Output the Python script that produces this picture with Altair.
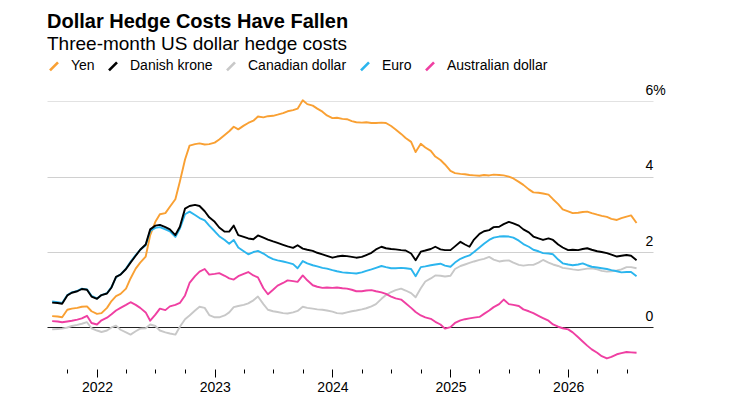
import altair as alt
import pandas as pd

# semi-monthly observation dates (1st and 15th of each month)
dates = pd.date_range("2021-08-15", periods=120, freq="SMS").strftime("%Y-%m-%dT00:00:00").tolist()

yen = [
    0.30, 0.29, 0.27, 0.47, 0.50, 0.52, 0.55, 0.56, 0.43, 0.36,
    0.38, 0.52, 0.70, 0.83, 0.89, 1.03, 1.30, 1.56, 1.72, 1.88,
    2.45, 2.80, 3.00, 3.03, 3.20, 3.40, 3.87, 4.45, 4.82, 4.86,
    4.88, 4.85, 4.86, 4.90, 4.98, 5.10, 5.20, 5.32, 5.25, 5.35,
    5.42, 5.48, 5.59, 5.57, 5.60, 5.61, 5.64, 5.68, 5.73, 5.76,
    5.80, 6.02, 5.92, 5.88, 5.80, 5.72, 5.62, 5.55, 5.56, 5.53,
    5.52, 5.47, 5.44, 5.43, 5.44, 5.42, 5.42, 5.43, 5.42, 5.34,
    5.25, 5.13, 5.02, 4.92, 4.65, 4.87, 4.77, 4.68, 4.53, 4.44,
    4.32, 4.15, 4.09, 4.07, 4.06, 4.04, 4.03, 4.02, 4.04, 4.03,
    4.05, 4.04, 4.03, 4.00, 3.95, 3.86, 3.78, 3.66, 3.58, 3.57,
    3.55, 3.52, 3.40, 3.27, 3.13, 3.08, 3.03, 3.04, 3.06, 3.07,
    3.03, 2.99, 2.96, 2.93, 2.88, 2.85, 2.90, 2.94, 2.97, 2.77,
]
danish_krone = [
    0.66, 0.65, 0.63, 0.85, 0.92, 0.96, 1.02, 1.00, 0.82, 0.76,
    0.86, 0.90, 1.06, 1.34, 1.40, 1.55, 1.72, 1.90, 2.06, 2.20,
    2.60, 2.70, 2.72, 2.66, 2.60, 2.45, 2.67, 3.15, 3.22, 3.25,
    3.22, 3.08, 2.92, 2.80, 2.65, 2.54, 2.54, 2.70, 2.45, 2.40,
    2.36, 2.34, 2.44, 2.38, 2.33, 2.28, 2.24, 2.19, 2.15, 2.11,
    2.18, 2.09, 2.06, 2.03, 1.98, 1.94, 1.90, 1.85, 1.88, 1.90,
    1.89, 1.87, 1.85, 1.87, 1.92, 1.98, 2.07, 2.14, 2.10, 2.08,
    2.07, 2.05, 2.04, 1.96, 1.78, 2.01, 2.04, 2.08, 2.14, 2.07,
    2.05, 2.05, 2.15, 2.27, 2.20, 2.14, 2.33, 2.48, 2.55, 2.58,
    2.66, 2.67, 2.74, 2.80, 2.76, 2.70, 2.60, 2.52, 2.41, 2.36,
    2.32, 2.36, 2.32, 2.20, 2.12, 2.05, 2.06, 2.05, 2.08, 2.10,
    2.06, 2.02, 2.00, 1.97, 1.93, 1.88, 1.90, 1.92, 1.90, 1.78,
]
canadian_dollar = [
    -0.05, -0.04, -0.03, 0.00, 0.04, 0.07, 0.10, 0.14, -0.02, -0.08,
    -0.12, -0.08, 0.00, 0.05, -0.06, -0.13, -0.19, -0.10, -0.03, -0.02,
    0.08, 0.04, -0.08, -0.13, -0.16, -0.19, 0.02, 0.22, 0.32, 0.45,
    0.55, 0.52, 0.33, 0.27, 0.27, 0.32, 0.40, 0.54, 0.57, 0.60,
    0.64, 0.72, 0.82, 0.62, 0.47, 0.43, 0.41, 0.38, 0.37, 0.40,
    0.44, 0.55, 0.52, 0.50, 0.48, 0.47, 0.45, 0.42, 0.38, 0.37,
    0.40, 0.43, 0.45, 0.48, 0.51, 0.56, 0.62, 0.76, 0.86, 0.94,
    0.99, 1.03, 0.98, 0.91, 0.80, 1.04, 1.22, 1.30, 1.38, 1.37,
    1.35, 1.37, 1.55, 1.63, 1.67, 1.71, 1.75, 1.79, 1.82, 1.87,
    1.80, 1.75, 1.77, 1.78, 1.72, 1.66, 1.64, 1.66, 1.66, 1.72,
    1.79, 1.72, 1.67, 1.63, 1.58, 1.56, 1.54, 1.52, 1.54, 1.56,
    1.57, 1.54, 1.50, 1.48, 1.49, 1.51, 1.54, 1.60, 1.60, 1.57,
]
euro = [
    0.69, 0.67, 0.65, 0.86, 0.93, 0.97, 1.03, 1.01, 0.84, 0.77,
    0.86, 0.91, 1.07, 1.33, 1.41, 1.56, 1.74, 1.92, 2.06, 2.18,
    2.56, 2.64, 2.66, 2.60, 2.55, 2.40, 2.62, 3.00, 3.07, 2.98,
    2.90, 2.84, 2.70, 2.55, 2.42, 2.32, 2.22, 2.32, 2.12, 2.02,
    1.94, 2.00, 2.03, 1.96, 1.88, 1.81, 1.78, 1.75, 1.72, 1.68,
    1.57, 1.76, 1.70, 1.65, 1.62, 1.58, 1.56, 1.52, 1.49, 1.46,
    1.45, 1.44, 1.43, 1.46, 1.50, 1.54, 1.58, 1.63, 1.60, 1.57,
    1.57, 1.58, 1.57, 1.55, 1.36, 1.60, 1.62, 1.65, 1.67, 1.69,
    1.64, 1.61, 1.72, 1.82, 1.87, 1.91, 2.00, 2.12, 2.22, 2.32,
    2.38, 2.41, 2.42, 2.41, 2.38, 2.30, 2.21, 2.14, 2.06, 2.02,
    1.97, 1.96, 1.94, 1.80, 1.70, 1.67, 1.65, 1.67, 1.70, 1.65,
    1.61, 1.59, 1.57, 1.55, 1.52, 1.49, 1.46, 1.47, 1.47, 1.36,
]
australian_dollar = [
    0.17, 0.16, 0.14, 0.16, 0.18, 0.21, 0.24, 0.31, 0.12, 0.08,
    0.19, 0.26, 0.35, 0.45, 0.52, 0.60, 0.67, 0.60, 0.52, 0.40,
    0.18, 0.34, 0.50, 0.46, 0.56, 0.60, 0.65, 0.85, 1.18, 1.36,
    1.48, 1.55, 1.40, 1.42, 1.44, 1.37, 1.30, 1.27, 1.36, 1.42,
    1.47, 1.38, 1.33, 1.04, 0.88, 1.00, 1.11, 1.18, 1.25, 1.23,
    1.21, 1.38, 1.25, 1.12, 1.08, 1.05, 1.06, 1.05, 1.06, 1.04,
    1.03, 1.00, 0.96, 0.96, 0.98, 0.99, 0.96, 0.93, 0.89, 0.82,
    0.77, 0.74, 0.64, 0.52, 0.41, 0.32, 0.27, 0.23, 0.15, 0.08,
    -0.03, 0.01, 0.12, 0.19, 0.22, 0.24, 0.26, 0.28, 0.36, 0.45,
    0.54, 0.62, 0.74, 0.62, 0.60, 0.57, 0.48, 0.43, 0.38, 0.31,
    0.25, 0.18, 0.08, 0.02, -0.02, -0.05, -0.13, -0.26, -0.37, -0.48,
    -0.58, -0.67, -0.76, -0.82, -0.78, -0.71, -0.68, -0.65, -0.66, -0.67,
]

series_names = ["Yen", "Danish krone", "Canadian dollar", "Euro", "Australian dollar"]
series_colors = ["#F9A033", "#000000", "#C8C8C8", "#2BB5EE", "#EF3FA2"]
series_values = {
    "Yen": yen,
    "Danish krone": danish_krone,
    "Canadian dollar": canadian_dollar,
    "Euro": euro,
    "Australian dollar": australian_dollar,
}
draw_order = ["Canadian dollar", "Australian dollar", "Yen", "Euro", "Danish krone"]

tick_dates = [
    "2021-10-01",
    "2022-01-01", "2022-04-01", "2022-07-01", "2022-10-01",
    "2023-01-01", "2023-04-01", "2023-07-01", "2023-10-01",
    "2024-01-01", "2024-04-01", "2024-07-01", "2024-10-01",
    "2025-01-01", "2025-04-01", "2025-07-01", "2025-10-01",
    "2026-01-01", "2026-04-01", "2026-07-01",
]
y_ticks = [0, 2, 4, 6]
x_domain = ["2021-07-30", "2026-09-21"]
y_domain = [-1.1, 6.4]


def to_dt(s):
    y, m, d = (int(p) for p in s.split("-"))
    return alt.DateTime(year=y, month=m, date=d)


rows = []
for name in draw_order:
    for d, v in zip(dates, series_values[name]):
        rows.append({"date": d, "value": v, "series": name})
df = pd.DataFrame(rows)

FONT = "Liberation Sans"

chart = (
    alt.Chart(df)
    .mark_line(strokeWidth=1.9, strokeJoin="round")
    .encode(
        x=alt.X(
            "date:T",
            scale=alt.Scale(domain=[to_dt(s) for s in x_domain]),
            axis=alt.Axis(
                values=[to_dt(s) for s in tick_dates],
                labelExpr="month(datum.value) === 0 ? timeFormat(datum.value, '%Y') : ''",
                tickSize={"condition": {"test": "month(datum.value) === 0", "value": 8}, "value": 4},
                tickColor="#000000",
                tickWidth=1,
                domain=False,
                grid=False,
                labelFont=FONT,
                labelFontSize=14,
                labelColor="#000000",
                labelPadding=3,
                labelFlush=False,
                labelOverlap=False,
                title=None,
            ),
        ),
        y=alt.Y(
            "value:Q",
            scale=alt.Scale(domain=y_domain, nice=False, zero=False),
            axis=alt.Axis(
                orient="right",
                values=y_ticks,
                labelExpr="datum.value === 6 ? '6%' : datum.label",
                grid=True,
                gridColor={
                    "condition": [
                        {"test": "datum.value === 0", "value": "#222222"},
                        {"test": "datum.value === 6", "value": "#e2e2e2"},
                    ],
                    "value": "#d0d0d0",
                },
                gridWidth=1,
                domain=False,
                ticks=False,
                labelAlign="left",
                labelBaseline="alphabetic",
                labelPadding=-8,
                labelOffset=-7,
                labelFont=FONT,
                labelFontSize=14,
                labelColor="#000000",
                title=None,
            ),
        ),
        color=alt.Color(
            "series:N",
            scale=alt.Scale(domain=series_names, range=series_colors),
            legend=alt.Legend(
                orient="none",
                legendX=0,
                legendY=-27,
                direction="horizontal",
                title=None,
                symbolType="M-1,1L1,-1",
                symbolSize=64,
                symbolStrokeWidth=2.6,
                labelFont=FONT,
                labelFontSize=14,
                labelColor="#000000",
                labelOffset=10,
                columnPadding=8,
            ),
        ),
    )
    .properties(
        width=606,
        height=283,
        autosize=alt.AutoSizeParams(type="none"),
        padding={"left": 39, "top": 78, "right": 60, "bottom": 28},
        title=alt.TitleParams(
            text="Dollar Hedge Costs Have Fallen",
            subtitle="Three-month US dollar hedge costs",
            anchor="start",
            font=FONT,
            fontSize=20,
            fontWeight="bold",
            color="#000000",
            subtitleFont=FONT,
            subtitleFontSize=19,
            subtitleColor="#000000",
            subtitlePadding=3,
            offset=5,
        ),
    )
    .configure_view(stroke=None)
)

chart.save("out.html", embed_options={"renderer": "svg", "actions": False})
